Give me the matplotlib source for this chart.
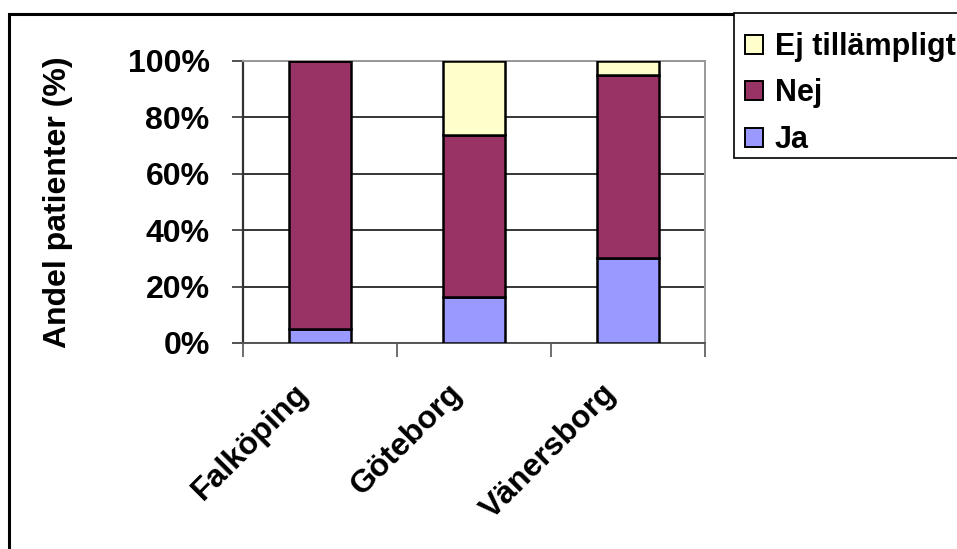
import matplotlib
matplotlib.use('Agg')
import matplotlib.pyplot as plt
import matplotlib.patches as mpatches
import matplotlib.transforms as mtransforms
import numpy as np

# ── Data ───────────────────────────────────────────────────────────────────────
categories = ['Falköping', 'Göteborg', 'Vänersborg']
ja = [5.0, 16.2, 30.1]
nej = [95.0, 57.4, 64.8]
ej = [0.0, 26.4, 5.1]
series_names = ['Ja', 'Nej', 'Ej tillämpligt']

# ── Style ──────────────────────────────────────────────────────────────────────
COL_JA = '#9999FF'
COL_NEJ = '#993366'
COL_EJ = '#FFFFCC'
FONT = 'Liberation Sans'
FS = 23
FS_LEG = 22

plt.rcParams['font.family'] = [FONT, 'DejaVu Sans']
plt.rcParams['font.weight'] = 'bold'

fig = plt.figure(figsize=(9.57, 5.49), dpi=100)
fig.patch.set_facecolor('white')
W, H = 957, 549

# outer chart border (runs off the right and bottom edge)
fig.add_artist(mpatches.Rectangle((8.5 / W, -0.05), 1.2, (H - 13.5) / H + 0.05,
                                  transform=fig.transFigure, facecolor='none',
                                  edgecolor='black', linewidth=2.2))
# legend box (also runs off the right edge)
fig.add_artist(mpatches.Rectangle((733.5 / W, (H - 158) / H), 1.0, (158 - 13.5) / H,
                                  transform=fig.transFigure, facecolor='white',
                                  edgecolor='black', linewidth=1.2, zorder=4))

ax = fig.add_axes([243 / W, (H - 343) / H, (705 - 243) / W, (343 - 61) / H])

x = np.arange(len(categories))
ja_a, nej_a, ej_a = np.array(ja), np.array(nej), np.array(ej)
bw = 0.4
b_ja = ax.bar(x, ja_a, bw, color=COL_JA, edgecolor='black', linewidth=1.8, zorder=3)
b_nej = ax.bar(x, nej_a, bw, bottom=ja_a, color=COL_NEJ, edgecolor='black', linewidth=1.8, zorder=3)
b_ej = ax.bar(x, ej_a, bw, bottom=ja_a + nej_a, color=COL_EJ, edgecolor='black', linewidth=1.8, zorder=3)

ax.set_xlim(-0.5, len(categories) - 0.5)
ax.set_ylim(0, 100)

# y axis
ax.set_yticks(np.arange(0, 101, 20))
ax.set_yticklabels([f'{v}%' for v in range(0, 101, 20)], fontsize=FS, fontweight='bold')
ax.tick_params(axis='y', direction='out', length=8, width=1.2, color='#333333', pad=16)
ax.yaxis.grid(True, color='black', linewidth=1.1)
ax.set_axisbelow(True)

# x axis: ticks at category edges, labels at centers
ax.set_xticks(np.arange(-0.5, len(categories), 1.0))
ax.set_xticklabels([])
ax.tick_params(axis='x', which='major', direction='out', length=10, width=1.2, color='#555555')
ax.set_xticks(x, minor=True)
ax.set_xticklabels(categories, minor=True, rotation=45, ha='right', va='center',
                   rotation_mode='anchor', fontsize=FS, fontweight='bold')
ax.tick_params(axis='x', which='minor', length=0, pad=33)
shift = mtransforms.ScaledTranslation(-16 / 100, 0, fig.dpi_scale_trans)
for lbl in ax.get_xticklabels(minor=True):
    lbl.set_transform(lbl.get_transform() + shift)

for s in ['top', 'right']:
    ax.spines[s].set_color('#999999')
    ax.spines[s].set_linewidth(1.4)
ax.spines['left'].set_color('#333333')
ax.spines['left'].set_linewidth(1.6)
ax.spines['bottom'].set_color('#555555')
ax.spines['bottom'].set_linewidth(1.4)

ax.set_ylabel('Andel patienter (%)', fontsize=FS, fontweight='bold', va='center')
ax.yaxis.set_label_coords((58 - 243) / (705 - 243), 0.5)

# legend entries (reversed order), placed inside the drawn box
leg = fig.legend([b_ej, b_nej, b_ja], series_names[::-1], loc='upper left',
                 bbox_to_anchor=(745 / W, (H - 32) / H),
                 prop={'family': FONT, 'weight': 'bold', 'size': FS_LEG},
                 frameon=False, handlelength=0.59, handleheight=0.59, handletextpad=0.39,
                 labelspacing=0.54, borderpad=0, borderaxespad=0)
leg.set_zorder(5)
for h in leg.legend_handles:
    h.set_linewidth(1.4)

plt.savefig('out.png', dpi=100, facecolor='white')
plt.close()
